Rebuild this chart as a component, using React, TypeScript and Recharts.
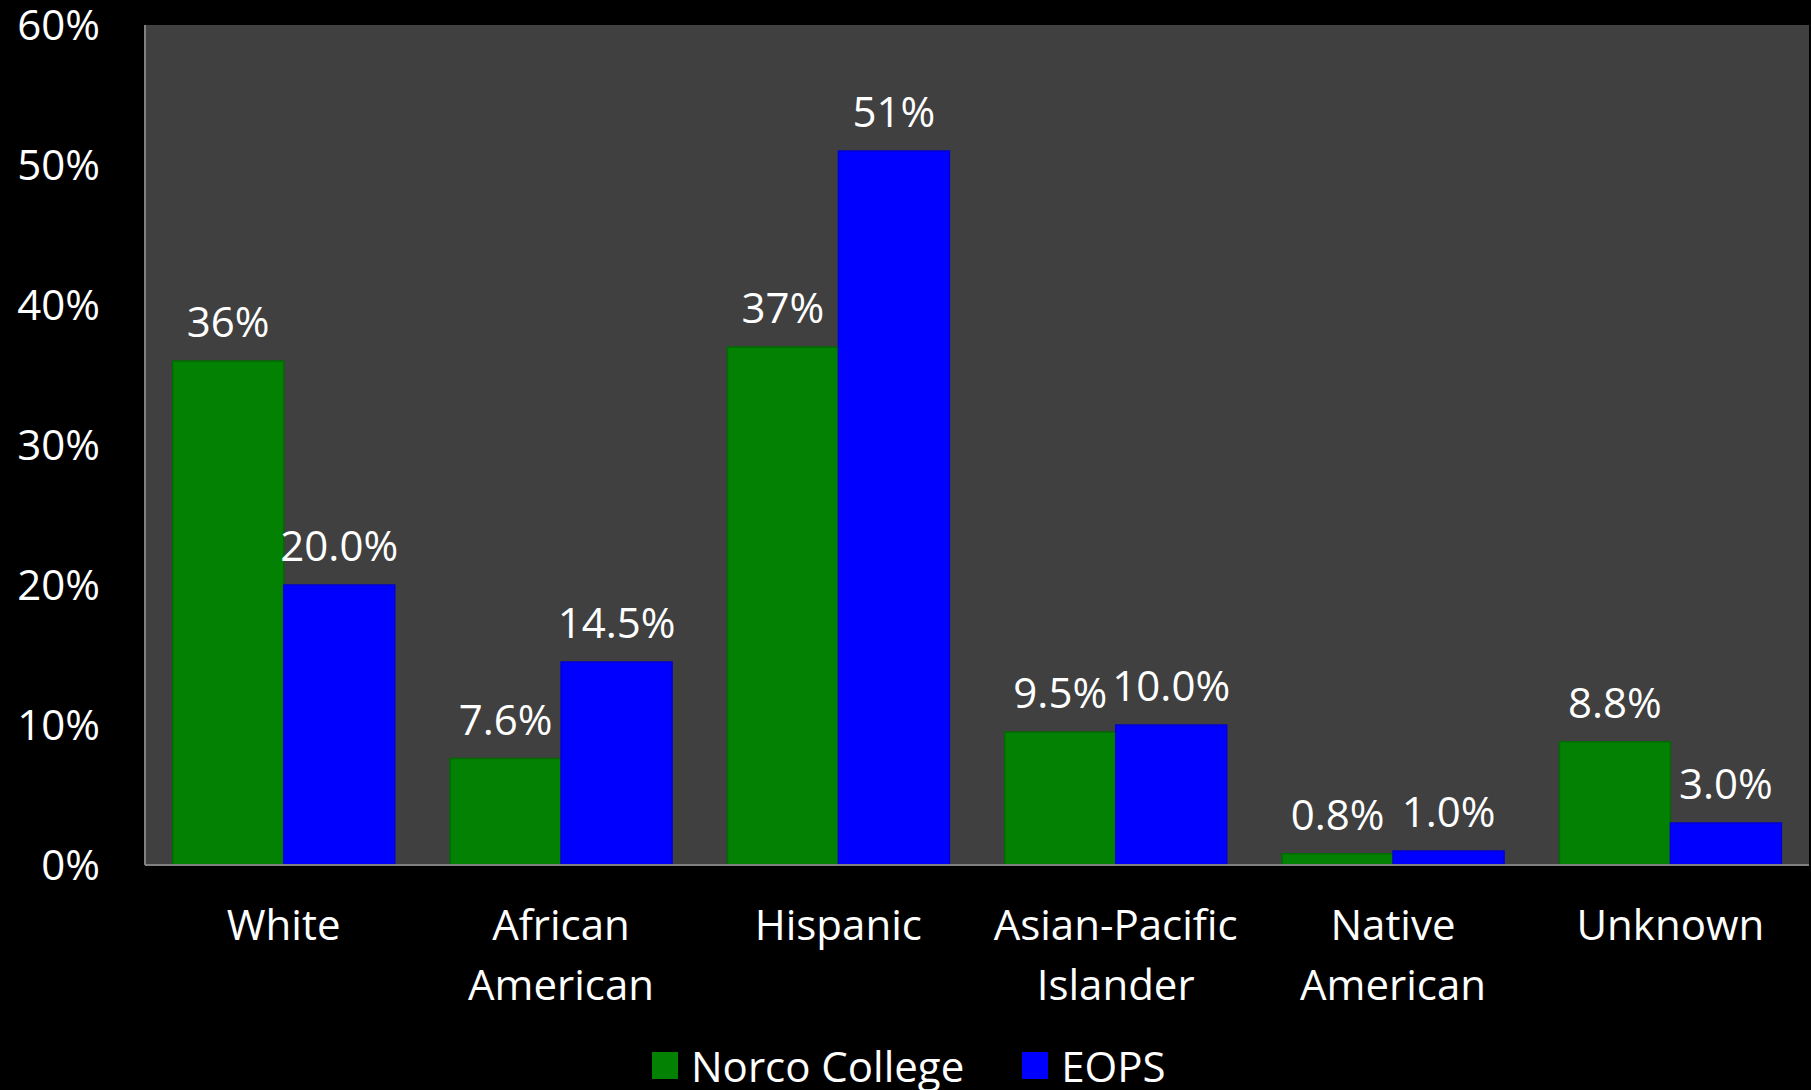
import React from "react";
import { BarChart, Bar, XAxis, YAxis, CartesianGrid, LabelList, Legend } from "recharts";

const categories = ["White", "African\nAmerican", "Hispanic", "Asian-Pacific\nIslander", "Native\nAmerican", "Unknown"];
const norcoValues = [36, 7.6, 37, 9.5, 0.8, 8.8];
const eopsValues = [20.0, 14.5, 51, 10.0, 1.0, 3.0];
const norcoLabels = ["36%", "7.6%", "37%", "9.5%", "0.8%", "8.8%"];
const eopsLabels = ["20.0%", "14.5%", "51%", "10.0%", "1.0%", "3.0%"];
const yTicks = [0, 10, 20, 30, 40, 50, 60];
const seriesNames = ["Norco College", "EOPS"];
const seriesColors = ["#028102", "#0000fe"];

const data = categories.map((c, i) => ({
  name: c,
  norco: norcoValues[i],
  eops: eopsValues[i],
  norcoLabel: norcoLabels[i],
  eopsLabel: eopsLabels[i],
}));

const FONT = "'Open Sans', sans-serif";

const XTick = (props: any) => {
  const { x, y, payload } = props;
  const lines = String(payload.value).split("\n");
  return (
    <text x={x} y={y} textAnchor="middle" fill="#ffffff" fontSize={42} fontFamily={FONT}>
      {lines.map((l, i) => (
        <tspan key={i} x={x} y={y + 73 + i * 60}>
          {l}
        </tspan>
      ))}
    </text>
  );
};

const YTick = (props: any) => {
  const { x, y, payload } = props;
  return (
    <text x={x} y={y + 15} textAnchor="end" fill="#ffffff" fontSize={42} fontFamily={FONT}>
      {`${payload.value}%`}
    </text>
  );
};

const LegendContent = () => (
  <div style={{ display: "flex", alignItems: "center", paddingLeft: 652, fontFamily: FONT, fontSize: 42, color: "#fff", height: 50 }}>
    {seriesNames.map((n, i) => (
      <div key={n} style={{ display: "flex", alignItems: "center", marginRight: 58 }}>
        <div style={{ width: 26, height: 27, background: seriesColors[i], marginRight: 13 }} />
        <span>{n}</span>
      </div>
    ))}
  </div>
);

export default function App() {
  return (
    <div style={{ position: "absolute", left: 0, top: 0, width: 1811, height: 1090, background: "#000" }}>
      <BarChart
        width={1811}
        height={1090}
        data={data}
        margin={{ top: 25, right: 2, bottom: 0, left: 0 }}
        barCategoryGap="10%"
        barGap={0}
      >
        <CartesianGrid fill="#404040" horizontal={false} vertical={false} />
        <XAxis
          dataKey="name"
          height={225}
          axisLine={{ stroke: "#808080", strokeWidth: 2 }}
          tickLine={false}
          tickSize={0}
          tick={<XTick />}
          interval={0}
        />
        <YAxis
          width={145}
          domain={[0, 60]}
          ticks={yTicks}
          axisLine={{ stroke: "#808080", strokeWidth: 2 }}
          tickLine={false}
          tickSize={0}
          tickMargin={45}
          tick={<YTick />}
          interval={0}
        />
        <Legend verticalAlign="middle" align="center" layout="horizontal" wrapperStyle={{ top: 1040, left: 0, width: 1811 }} content={<LegendContent />} />
        <Bar dataKey="norco" name={seriesNames[0]} fill={seriesColors[0]} stroke="#016a01" strokeWidth={1.5} isAnimationActive={false}>
          <LabelList dataKey="norcoLabel" position="top" offset={24} fill="#ffffff" fontSize={42} fontFamily={FONT} />
        </Bar>
        <Bar dataKey="eops" name={seriesNames[1]} fill={seriesColors[1]} stroke="#0000d8" strokeWidth={1.5} isAnimationActive={false}>
          <LabelList dataKey="eopsLabel" position="top" offset={24} fill="#ffffff" fontSize={42} fontFamily={FONT} />
        </Bar>
      </BarChart>
    </div>
  );
}
